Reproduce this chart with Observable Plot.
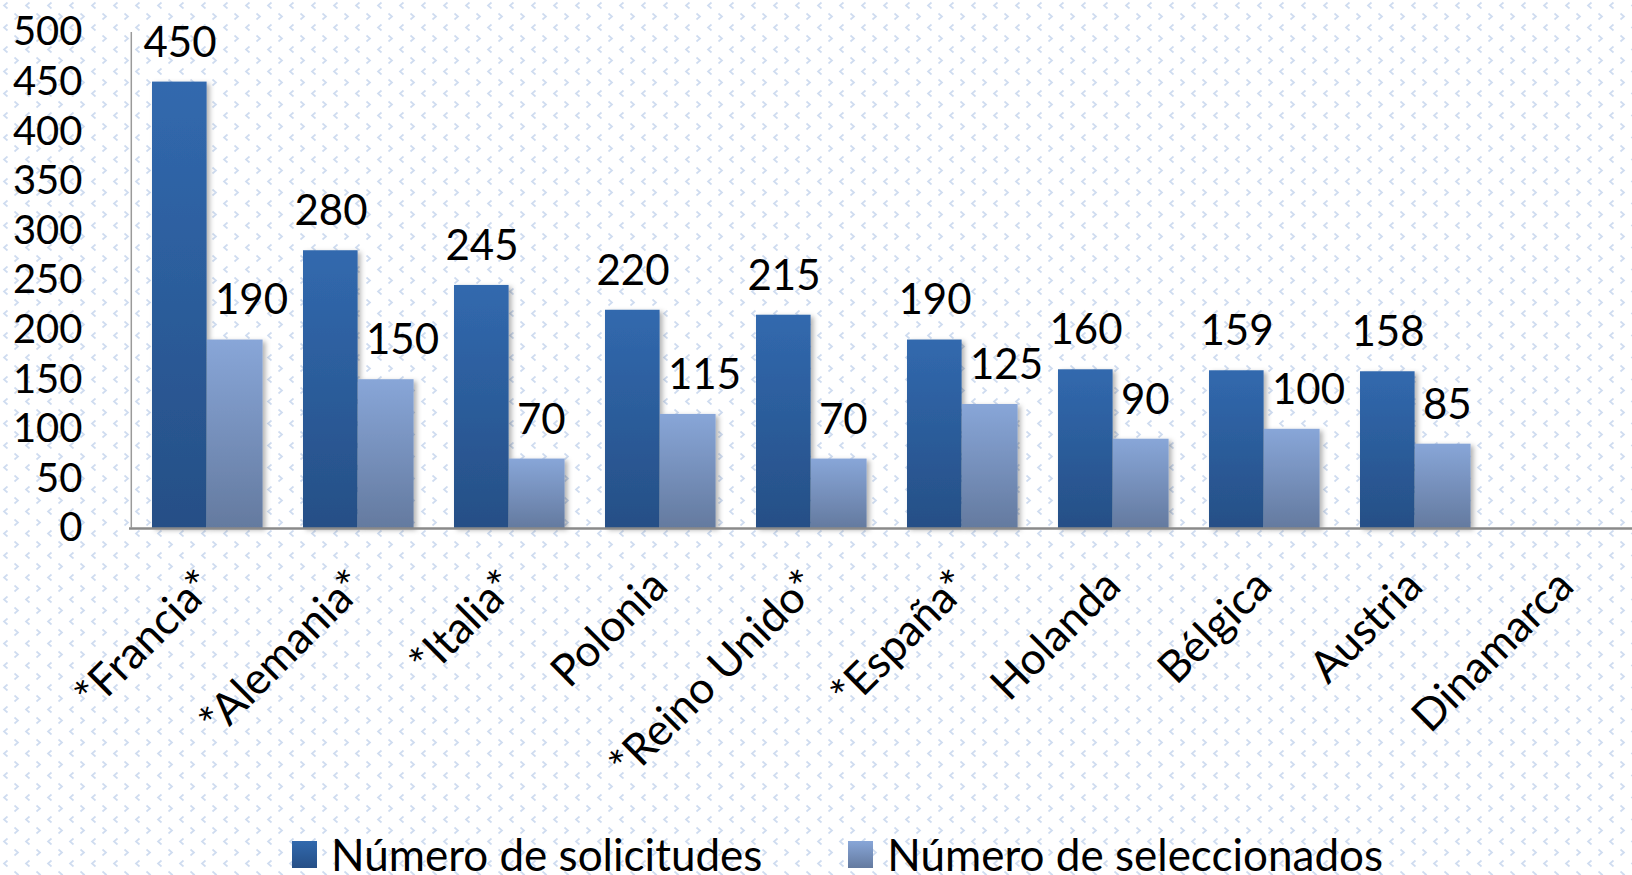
<!DOCTYPE html>
<html><head><meta charset="utf-8">
<script src="https://cdn.jsdelivr.net/npm/d3@7"></script>
<script src="https://cdn.jsdelivr.net/npm/@observablehq/plot@0.6"></script>
<style>
html,body{margin:0;padding:0;overflow:hidden;width:1632px;height:875px;background:#fff;}
#chart{position:absolute;left:0;top:0;}
#legend{position:absolute;left:292px;top:832px;display:flex;align-items:center;font-family:Lato,"Open Sans",sans-serif;font-size:44px;line-height:44px;color:#000;white-space:nowrap;}
.item{display:flex;align-items:center;}
.sw{width:25px;height:27px;margin-right:14px;}
</style></head>
<body>
<div id="chart"></div>
<div id="legend"></div>
<script>
const countries = ["*Francia*","*Alemania*","*Italia*","Polonia","*Reino Unido*","*España*","Holanda","Bélgica","Austria","Dinamarca"];
const solicitudes = [450,280,245,220,215,190,160,159,158,null];
const seleccionados = [190,150,70,115,70,125,90,100,85,null];
const seriesNames = ["Número de solicitudes","Número de seleccionados"];
const yTicks = [0,50,100,150,200,250,300,350,400,450,500];

// background pattern
const pat = "<svg xmlns='http://www.w3.org/2000/svg' width='22' height='22'>" +
  "<g fill='none' stroke='#cfdcf0' stroke-width='1.7'>" +
  "<path d='M7.5 2.5 L4 5.5 L7.5 8.5'/><path d='M14.5 13.5 L18 16.5 L14.5 19.5'/></g></svg>";
document.body.style.backgroundImage = "url(\"data:image/svg+xml," + encodeURIComponent(pat) + "\")";

const rows = countries.map((c, i) => ({country: c, sol: solicitudes[i], sel: seleccionados[i]}));
const solRows = rows.filter(d => d.sol != null);
const selRows = rows.filter(d => d.sel != null);

const plot = Plot.plot({
  width: 1632, height: 838,
  marginLeft: 129, marginRight: -11, marginTop: 32, marginBottom: 310,
  style: {fontFamily: "Lato, 'Open Sans', sans-serif", fontSize: "40px", color: "#000", background: "transparent", overflow: "visible"},
  x: {domain: countries, padding: 0, axis: null},
  y: {domain: [0, 500], axis: null},
  marks: [
    Plot.axisY({ticks: yTicks, tickSize: 0, tickPadding: 47, label: null, fontSize: 40, fill: "#000"}),
    Plot.axisX({tickSize: 0, tickRotate: -45, tickPadding: 50, label: null, fontSize: 44, fill: "#000"}),
    Plot.barY(solRows, {x: "country", y: "sol", fill: "url(#gSol)", insetLeft: 21, insetRight: 75.4}),
    Plot.barY(selRows, {x: "country", y: "sel", fill: "url(#gSel)", insetLeft: 76, insetRight: 19.4}),
    Plot.text(solRows, {x: "country", y: "sol", text: d => String(d.sol), dx: -27, dy: -39, fontSize: 42, fill: "#000"}),
    Plot.text(selRows, {x: "country", y: "sel", text: d => String(d.sel), dx: 8, dy: -39, fontSize: 42, fill: "#000", textAnchor: "start"}),
    Plot.ruleY([0], {stroke: "#8a8a8a", strokeWidth: 2.5}),
    Plot.ruleX([countries[0]], {dx: -75.7, stroke: "#9a9a9a", strokeWidth: 1.5})
  ]
});

const svg = d3.select(plot);
const defs = svg.insert("defs", ":first-child");
function grad(id, c0, c1) {
  const g = defs.append("linearGradient").attr("id", id)
    .attr("x1", 0).attr("x2", 0).attr("y1", 0).attr("y2", 1);
  g.append("stop").attr("offset", "0%").attr("stop-color", c0);
  g.append("stop").attr("offset", "100%").attr("stop-color", c1);
}
grad("gSol", "#3169ae", "#264f86");
grad("gSel", "#88a6d8", "#647a9f");
const f = defs.append("filter").attr("id", "shadow").attr("x", "-20%").attr("y", "-20%").attr("width", "150%").attr("height", "150%");
f.append("feDropShadow").attr("dx", 3).attr("dy", 2).attr("stdDeviation", 2.5).attr("flood-color", "#000").attr("flood-opacity", 0.3);
svg.selectAll("g[aria-label='bar']").attr("filter", "url(#shadow)");

document.getElementById("chart").appendChild(plot);

const legend = d3.select("#legend");
const swGrad = ["linear-gradient(#3169ae,#264f86)", "linear-gradient(#88a6d8,#647a9f)"];
seriesNames.forEach((name, i) => {
  const it = legend.append("div").attr("class", "item").style("margin-right", i === 0 ? "86px" : "0");
  it.append("div").attr("class", "sw").style("background", swGrad[i]);
  it.append("span").text(name);
});
</script>
</body></html>
